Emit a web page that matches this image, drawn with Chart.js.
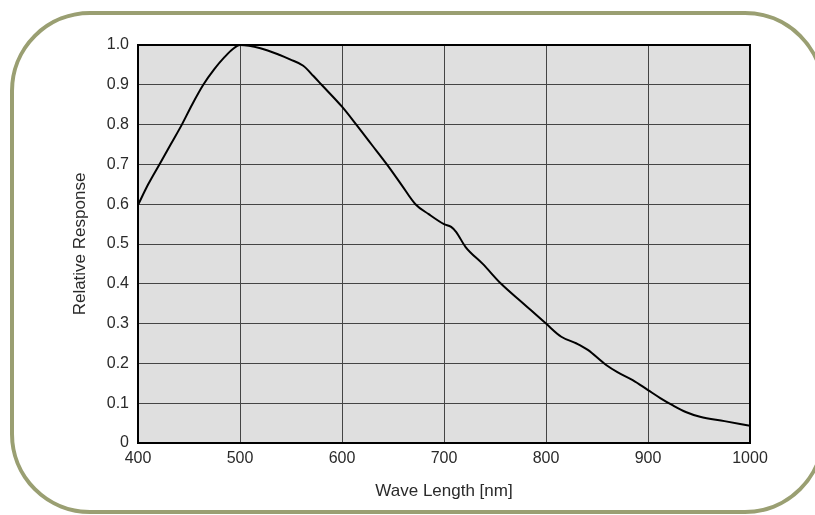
<!DOCTYPE html>
<html>
<head>
<meta charset="utf-8">
<script src="https://cdn.jsdelivr.net/npm/chart.js@4"></script>
<style>
  html, body { margin: 0; padding: 0; background: #fff; overflow: hidden; }
  #wrap { position: relative; width: 815px; height: 515px; }
  #frame {
    position: absolute; left: 10px; top: 11px;
    width: 807px; height: 495px;
    border: 4px solid #9a9f72; border-radius: 80px;
  }
  #chart { position: absolute; left: 0; top: 0; }
</style>
</head>
<body>
<div id="wrap">
  <div id="frame"></div>
  <canvas id="chart" width="815" height="515"></canvas>
</div>
<script>
// ── Datos ────────────────────────────────────────────
const longitudes = [400, 410, 421, 432, 443, 453, 464, 475, 485, 493, 500,
  520, 539, 549, 562, 572, 580, 600, 614, 629, 644, 658, 672, 685, 700, 707, 712, 721,
  738, 756, 778, 800, 815, 830, 841, 859, 870, 885, 900, 912, 924, 937, 951, 975, 1000];
const respuesta = [0.598, 0.65, 0.70, 0.75, 0.80, 0.85, 0.90, 0.94, 0.97, 0.99, 1.0,
  0.992, 0.975, 0.964, 0.948, 0.922, 0.90, 0.845, 0.80, 0.75, 0.70, 0.65, 0.60, 0.575, 0.55, 0.543, 0.53, 0.493,
  0.45, 0.40, 0.35, 0.30, 0.267, 0.25, 0.234, 0.196, 0.178, 0.158, 0.133, 0.113, 0.095, 0.078, 0.066, 0.055, 0.043];
const ticksX = [400, 500, 600, 700, 800, 900, 1000];
const ticksY = [0, 0.1, 0.2, 0.3, 0.4, 0.5, 0.6, 0.7, 0.8, 0.9, 1.0];

// ── Fondo y marco del área ───────────────────────────
const areaPlugin = {
  id: 'area',
  beforeDraw(chart) {
    const { ctx, chartArea: a } = chart;
    ctx.save();
    ctx.fillStyle = '#dfdfdf';
    ctx.fillRect(a.left, a.top, a.right - a.left, a.bottom - a.top);
    ctx.restore();
  },
  afterDatasetsDraw(chart) {
    const { ctx, chartArea: a } = chart;
    ctx.save();
    ctx.strokeStyle = '#000';
    ctx.lineWidth = 2;
    ctx.strokeRect(a.left, a.top, a.right - a.left, a.bottom - a.top);
    ctx.restore();
  }
};

const fuenteTicks = { family: 'Liberation Sans, Arial, sans-serif', size: 16 };
const fuenteTitulo = { family: 'Liberation Sans, Arial, sans-serif', size: 17 };

new Chart(document.getElementById('chart'), {
  type: 'scatter',
  data: {
    datasets: [{
      data: longitudes.map((x, i) => ({ x, y: respuesta[i] })),
      showLine: true,
      borderColor: '#000',
      borderWidth: 2,
      pointRadius: 0,
      cubicInterpolationMode: 'monotone'
    }]
  },
  options: {
    responsive: false,
    animation: false,
    layout: { padding: { left: 70, top: 45, right: 65, bottom: 13 } },
    plugins: { legend: { display: false }, tooltip: { enabled: false } },
    scales: {
      x: {
        type: 'linear', min: 400, max: 1000,
        afterBuildTicks: s => { s.ticks = ticksX.map(v => ({ value: v })); },
        afterFit: s => { s.height = 59; },
        grid: { color: '#444', lineWidth: 1, drawTicks: false },
        border: { display: false },
        ticks: { color: '#2a2a2a', font: fuenteTicks, padding: 6, maxRotation: 0, callback: v => String(v) },
        title: { display: true, text: 'Wave Length [nm]', color: '#2a2a2a', font: fuenteTitulo, padding: 0 }
      },
      y: {
        type: 'linear', min: 0, max: 1,
        afterBuildTicks: s => { s.ticks = ticksY.map(v => ({ value: v })); },
        afterFit: s => { s.width = 68; },
        grid: { color: '#444', lineWidth: 1, drawTicks: false },
        border: { display: false },
        ticks: {
          color: '#2a2a2a', font: fuenteTicks, padding: 9,
          callback: v => v === 0 ? '0' : v.toFixed(1)
        },
        title: { display: true, text: 'Relative Response', color: '#2a2a2a', font: fuenteTitulo, padding: 0 }
      }
    }
  },
  plugins: [areaPlugin]
});
</script>
</body>
</html>
